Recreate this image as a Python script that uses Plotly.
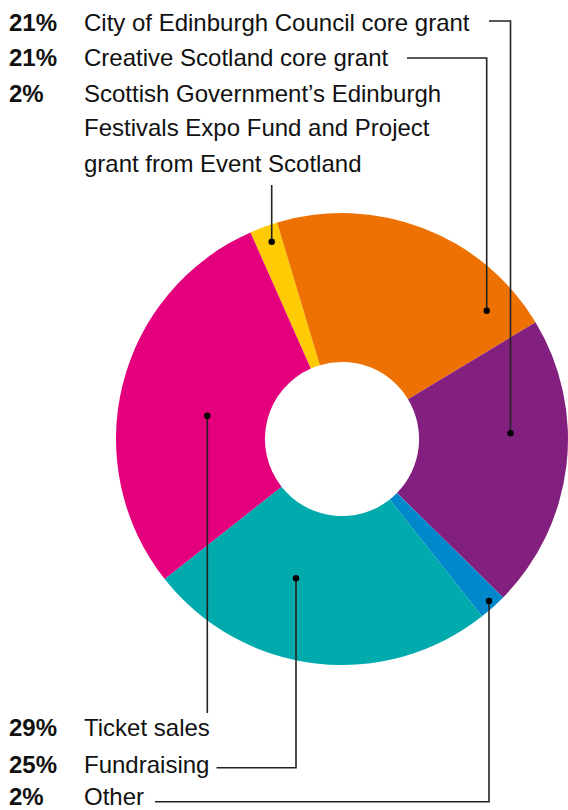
import plotly.graph_objects as go

# ---- data ----
slices = ["Scottish Government / Event Scotland", "Creative Scotland core grant",
          "City of Edinburgh Council core grant", "Other", "Fundraising", "Ticket sales"]
values = [2, 21, 21, 2, 25, 29]
colors = ["#FFCB05", "#EE7203", "#83207F", "#0088CB", "#00AAAD", "#E4007C"]

top_pct = ["21%", "21%", "2%"]
top_labels = ["City of Edinburgh Council core grant", "Creative Scotland core grant",
              ["Scottish Government’s Edinburgh", "Festivals Expo Fund and Project",
               "grant from Event Scotland"]]
bottom_pct = ["29%", "25%", "2%"]
bottom_labels = ["Ticket sales", "Fundraising", "Other"]

W, H = 568, 810


def px(x):
    return x / W


def py(y):
    return 1 - y / H


fig = go.Figure()
fig.add_trace(go.Pie(
    values=values, labels=slices, sort=False, direction="clockwise",
    rotation=-23.9, hole=0.341, textinfo="none", hoverinfo="label+percent",
    marker=dict(colors=colors, line=dict(width=0)),
    domain=dict(x=[116 / W, 1.0], y=[(H - 439 - 226) / H, (H - 439 + 226) / H]),
    showlegend=False,
))

FONT = "Liberation Sans, Arial, sans-serif"
FS = 24
ann = []


def add_line(pct, text, baseline):
    ymid = baseline - 8.3
    if pct:
        ann.append(dict(x=px(7), y=py(ymid), xref="paper", yref="paper", text="<b>%s</b>" % pct,
                        showarrow=False, xanchor="left", yanchor="middle",
                        font=dict(family=FONT, size=FS, color="#111")))
    ann.append(dict(x=px(82), y=py(ymid), xref="paper", yref="paper", text=text,
                    showarrow=False, xanchor="left", yanchor="middle",
                    font=dict(family=FONT, size=FS, color="#111")))


add_line(top_pct[0], top_labels[0], 31)
add_line(top_pct[1], top_labels[1], 65.7)
add_line(top_pct[2], top_labels[2][0], 102)
add_line(None, top_labels[2][1], 136)
add_line(None, top_labels[2][2], 171.5)
add_line(bottom_pct[0], bottom_labels[0], 736)
add_line(bottom_pct[1], bottom_labels[1], 772.5)
add_line(bottom_pct[2], bottom_labels[2], 804.5)

# leader lines (pixel paths) and dots
LC = "#222"
paths = [
    [(489, 21), (510.5, 21), (510.5, 433.3)],
    [(407, 58), (486.7, 58), (486.7, 310.7)],
    [(271.7, 185), (271.7, 241.7)],
    [(207.3, 415.7), (207.3, 713)],
    [(216.5, 767.7), (296, 767.7), (296, 578.3)],
    [(155, 801.7), (489, 801.7), (489, 601)],
]
dots = [(510.5, 433.3), (486.7, 310.7), (271.7, 241.7), (207.3, 415.7), (296, 578.3), (489, 601)]

shapes = []
for p in paths:
    d = "M " + " L ".join("%f,%f" % (px(x), py(y)) for x, y in p)
    shapes.append(dict(type="path", path=d, xref="paper", yref="paper",
                       line=dict(color=LC, width=1.6)))
r = 3.2
for x, y in dots:
    shapes.append(dict(type="circle", xref="paper", yref="paper",
                       x0=px(x - r), x1=px(x + r), y0=py(y + r), y1=py(y - r),
                       fillcolor="#000", line=dict(width=0)))

fig.update_layout(width=W, height=H, margin=dict(l=0, r=0, t=0, b=0),
                  paper_bgcolor="white", plot_bgcolor="white",
                  annotations=ann, shapes=shapes)
fig.write_html("out.html")
